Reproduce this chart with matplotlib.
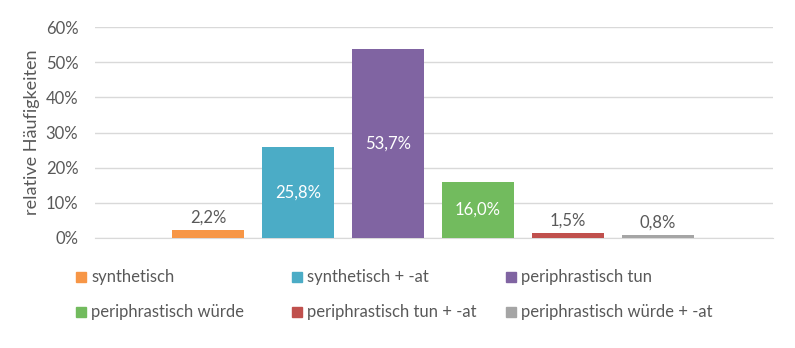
import matplotlib.pyplot as plt
from matplotlib.patches import Rectangle
from matplotlib.ticker import FuncFormatter

plt.rcParams['font.family'] = ['Lato', 'DejaVu Sans']

# data
labels = ["synthetisch", "synthetisch + -at", "periphrastisch tun",
          "periphrastisch würde", "periphrastisch tun + -at", "periphrastisch würde + -at"]
values = [2.2, 25.8, 53.7, 16.0, 1.5, 0.8]
colors = ["#F79646", "#4BACC6", "#8064A2", "#72BB5E", "#C0504D", "#A5A5A5"]
yticks = [0, 10, 20, 30, 40, 50, 60]

text_color = "#595959"
grid_color = "#D9D9D9"

fig = plt.figure(figsize=(7.95, 3.48), dpi=100)
ax = fig.add_axes([95 / 795, 1 - 238 / 348, (773 - 95) / 795, (238 - 27) / 348])

xs = list(range(len(values)))
ax.bar(xs, values, width=0.8, color=colors, zorder=3)

# data labels: inside (white) for tall bars, above for small ones
for x, v in zip(xs, values):
    txt = f"{v:.1f}".replace(".", ",") + "%"
    if v > 10:
        ax.text(x, v / 2, txt, ha="center", va="center", color="white", fontsize=12, zorder=4)
    else:
        ax.text(x, v + 1.2, txt, ha="center", va="bottom", color=text_color, fontsize=12, zorder=4)

ax.set_xlim(-1.256, 6.28)
ax.set_ylim(0, 60)
ax.set_yticks(yticks)
ax.yaxis.set_major_formatter(FuncFormatter(lambda v, p: f"{int(v)}%"))
ax.set_xticks([])
ax.tick_params(axis="y", length=0, pad=12, labelsize=12, labelcolor=text_color)
ax.grid(axis="y", color=grid_color, linewidth=1, zorder=0)
for s in ["top", "right", "left"]:
    ax.spines[s].set_visible(False)
ax.spines["bottom"].set_color(grid_color)
ax.set_ylabel("relative Häufigkeiten", fontsize=13, color=text_color)
ax.yaxis.set_label_coords(-(95 - 40) / 678, 0.5)

# legend laid out like the original: 3 columns, 2 rows
col_x = [76, 292, 506]
row_y = [277, 312]
for i, (lab, c) in enumerate(zip(labels, colors)):
    px = col_x[i % 3]
    py = row_y[i // 3]
    fig.patches.append(Rectangle((px / 795, 1 - (py + 5) / 348), 10 / 795, 10 / 348,
                                 transform=fig.transFigure, color=c))
    fig.text((px + 15) / 795, 1 - py / 348, lab, ha="left", va="center",
             fontsize=12, color=text_color)

fig.savefig("out.png", dpi=100)
